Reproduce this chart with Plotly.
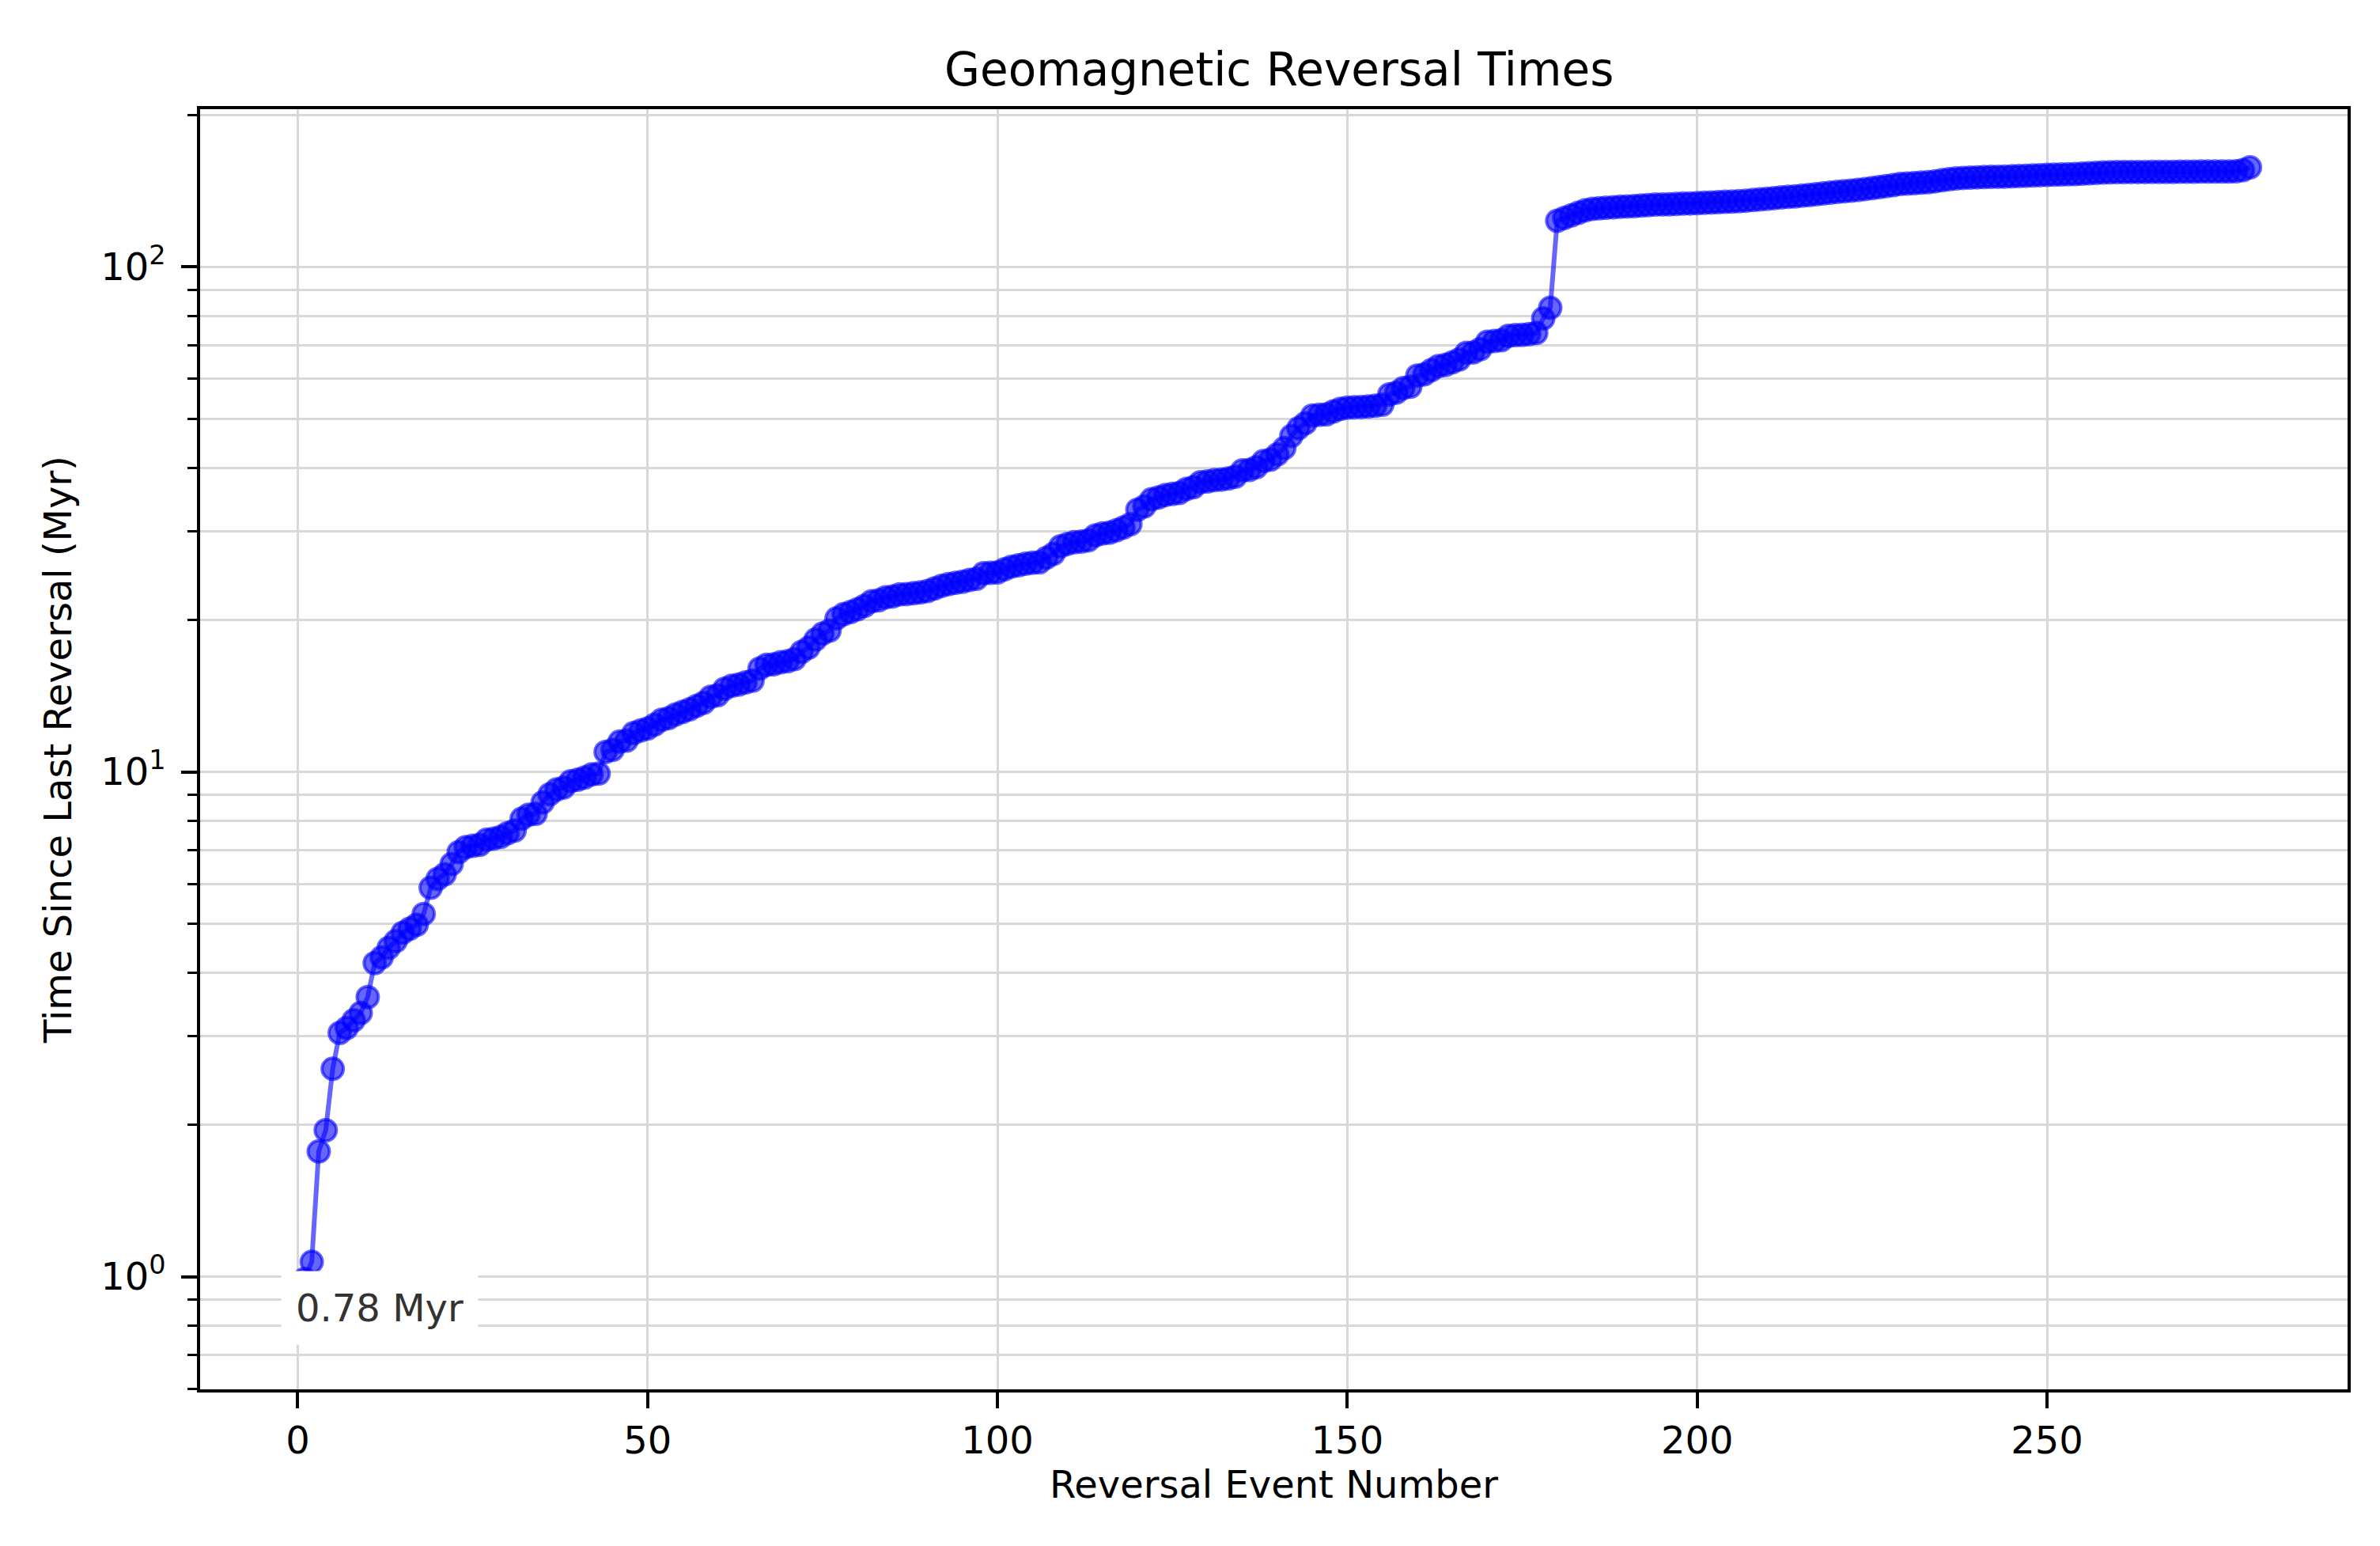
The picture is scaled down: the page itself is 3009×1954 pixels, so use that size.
import math
import plotly.graph_objects as go

# Reversal ages (Myr), youngest first
cenozoic_ages = [
    0.780, 0.990, 1.070, 1.770, 1.950, 2.581, 3.040, 3.110, 3.220, 3.330,
    3.580, 4.180, 4.290, 4.480, 4.620, 4.800, 4.890, 4.980, 5.230, 5.894,
    6.137, 6.269, 6.567, 6.935, 7.091, 7.135, 7.170, 7.341, 7.375, 7.432,
    7.562, 7.650, 8.072, 8.225, 8.257, 8.699, 9.025, 9.230, 9.308, 9.580,
    9.642, 9.740, 9.880, 9.920,
    10.949, 11.052, 11.476, 11.531, 11.935, 12.078, 12.184, 12.401, 12.678, 12.775,
    12.991, 13.139, 13.302, 13.510, 13.703, 14.076, 14.178, 14.612, 14.800, 14.888,
    15.034, 15.155, 16.014, 16.293, 16.327, 16.488, 16.556, 16.726, 17.277, 17.615,
    18.281, 18.781, 19.048, 20.131, 20.518, 20.725, 20.996, 21.320, 21.768, 21.859,
    22.151, 22.248, 22.459, 22.493, 22.588, 22.673, 22.802, 23.069, 23.353, 23.535,
    23.677, 23.800, 23.999, 24.118, 24.730, 24.781, 24.835, 25.183, 25.496, 25.648,
    25.823, 25.951, 25.992, 26.554, 27.027, 27.972, 28.283, 28.512, 28.578, 28.745,
    29.401, 29.662, 29.765, 30.098, 30.479, 30.939, 33.058, 33.545, 34.655, 34.940,
    35.343, 35.526, 35.685, 36.341, 36.618, 37.473, 37.604, 37.848, 37.920, 38.113,
    38.426, 39.552, 39.631, 40.130, 41.257, 41.521, 42.536, 43.789, 46.264, 47.906,
    49.037, 50.778, 50.946, 51.047, 51.743, 52.364, 52.663, 52.757, 52.801, 52.903,
    53.100, 53.347, 55.904, 56.391, 57.554, 57.911, 60.920, 61.276, 62.499, 63.634,
    63.976, 64.745, 65.578, 67.610, 67.735, 68.737, 71.071, 71.338, 71.587, 73.004,
    73.291, 73.374, 73.619, 74.000, 79.075, 83.000,
]

mesozoic_ages = [
    123.5, 125.0, 126.5, 128.0, 129.5, 130.3, 130.7, 131.0, 131.3, 131.6,
    131.8, 132.0, 132.3, 132.6, 132.9, 133.0, 133.1, 133.3, 133.5, 133.6,
    133.8, 134.0, 134.2, 134.4, 134.6, 134.8, 135.0, 135.3, 135.7, 136.1,
    136.5, 136.9, 137.3, 137.7, 138.0, 138.4, 138.8, 139.3, 139.8, 140.3,
    140.8, 141.2, 141.6, 142.1, 142.7, 143.3, 143.9, 144.6, 145.2, 146.0,
    146.3, 146.6, 146.9, 147.2, 147.8, 148.5, 149.2, 149.8, 150.1, 150.3,
    150.5, 150.7, 150.8, 150.9, 151.0, 151.2, 151.4, 151.6, 151.8, 152.0,
    152.2, 152.4, 152.5, 152.6, 152.7, 153.0, 153.3, 153.6, 153.9, 154.0,
    154.1, 154.1, 154.2, 154.2, 154.2, 154.3, 154.3, 154.3, 154.3, 154.4,
    154.4, 154.4, 154.5, 154.5, 154.5, 154.6, 154.6, 154.7, 155.5, 157.5,
]

x_ticks = [0, 50, 100, 150, 200, 250]
y_ticks = [1, 10, 100]
y_tick_labels = ["10<sup>0</sup>", "10<sup>1</sup>", "10<sup>2</sup>"]
y_minor_ticks = [0.6, 0.7, 0.8, 0.9, 2, 3, 4, 5, 6, 7, 8, 9,
                 20, 30, 40, 50, 60, 70, 80, 90, 200]

ages = cenozoic_ages + mesozoic_ages
event_number = list(range(len(ages)))

# matplotlib-like auto limits (5% margins, log on y)
x_pad = 0.05 * (event_number[-1] - event_number[0])
lo, hi = math.log10(min(ages)), math.log10(max(ages))
y_pad = 0.05 * (hi - lo)

BLUE = "rgba(0,0,255,0.6)"
GRID = "#d8d8d8"
FONT = "DejaVu Sans"
LABEL_SIZE = 48

fig = go.Figure()
fig.add_trace(go.Scatter(
    x=event_number, y=ages, mode="lines+markers",
    line=dict(color=BLUE, width=6),
    marker=dict(size=27, color=BLUE, line=dict(color=BLUE, width=4)),
    showlegend=False,
))

# label for the most recent reversal (box sits over the first point)
fig.add_annotation(
    x=-2.4, y=math.log10(0.866), xref="x", yref="y",
    text=f"{ages[0]:.2f} Myr", showarrow=False,
    xanchor="left", yanchor="middle",
    bgcolor="white", borderpad=18,
    font=dict(family=FONT, size=LABEL_SIZE, color="#333333"),
)

# the page body adds an 8px offset, margins are trimmed for it
fig.update_layout(
    width=3009, height=1954,
    margin=dict(l=245, r=49, t=130, b=206),
    paper_bgcolor="white", plot_bgcolor="white",
    font=dict(family=FONT, size=LABEL_SIZE, color="black"),
    title=dict(text="Geomagnetic Reversal Times", x=0.5348, xanchor="center",
               y=1 - 80 / 1954, yanchor="middle", yref="container",
               font=dict(family=FONT, size=58, color="black")),
    xaxis=dict(
        range=[event_number[0] - x_pad, event_number[-1] + x_pad],
        tickvals=x_ticks, ticks="outside", ticklen=20, tickwidth=3.5, tickcolor="black",
        showline=True, linewidth=3.5, linecolor="black", mirror=True,
        showgrid=True, gridcolor=GRID, gridwidth=3, zeroline=False,
        tickfont=dict(family=FONT, size=LABEL_SIZE, color="black"),
        title=dict(text="Reversal Event Number", standoff=10,
                   font=dict(family=FONT, size=LABEL_SIZE, color="black")),
    ),
    yaxis=dict(
        type="log", range=[lo - y_pad, hi + y_pad],
        tickvals=y_ticks, ticktext=y_tick_labels, ticklabelstandoff=10,
        ticks="outside", ticklen=20, tickwidth=3.5, tickcolor="black",
        showline=True, linewidth=3.5, linecolor="black", mirror=True,
        showgrid=True, gridcolor=GRID, gridwidth=3, zeroline=False,
        tickfont=dict(family=FONT, size=LABEL_SIZE, color="black"),
        minor=dict(tickvals=y_minor_ticks, ticks="outside", ticklen=12, tickwidth=2.5,
                   tickcolor="black", showgrid=True, gridcolor=GRID, gridwidth=3),
        title=dict(text="Time Since Last Reversal (Myr)", standoff=22,
                   font=dict(family=FONT, size=LABEL_SIZE, color="black")),
    ),
)

fig.write_html("out.html")
